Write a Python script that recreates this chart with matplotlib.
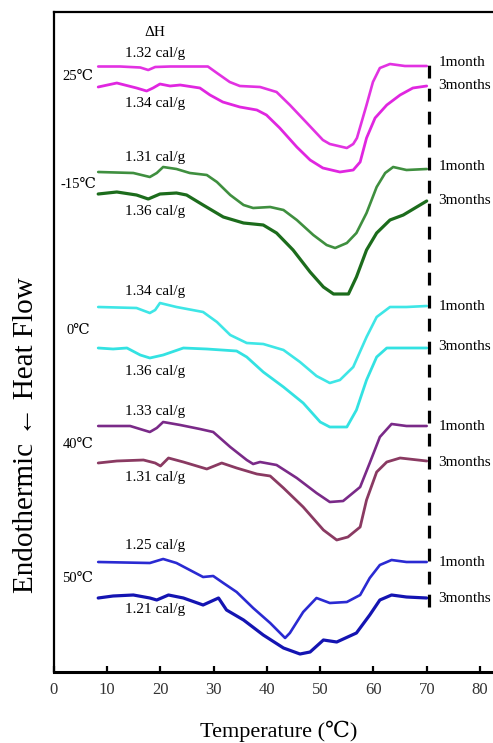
import matplotlib
matplotlib.use("Agg")
import matplotlib.pyplot as plt

plt.rcParams['font.family'] = ['Liberation Serif', 'DejaVu Serif', 'Noto Sans CJK SC']

# ---------------- data (temperature in degC, heat flow in arbitrary units) -------------
t_25_1m = [8.3, 12.4, 16.2, 17.7, 19.0, 21.8, 25.5, 28.9, 30.6, 33.0, 34.9, 38.7, 41.8, 44.3,
           47.5, 50.5, 51.8, 55.0, 56.2, 56.9, 58.7, 59.9, 61.2, 63.1, 65.9, 70.0]
h_25_1m = [60.55, 60.55, 60.45, 60.2, 60.5, 60.55, 60.55, 60.55, 59.9, 59.0, 58.6, 58.5, 58.0, 56.7,
           54.9, 53.2, 52.8, 52.4, 52.8, 53.4, 56.7, 59.0, 60.4, 60.8, 60.6, 60.6]

t_25_3m = [8.3, 11.8, 15.5, 17.4, 18.6, 19.9, 21.8, 23.7, 27.4, 29.3, 31.7, 34.9, 38.1, 39.9,
           42.4, 45.6, 48.1, 50.5, 53.7, 56.2, 57.5, 58.7, 60.3, 62.5, 65.0, 67.4, 70.0]
h_25_3m = [58.5, 58.9, 58.4, 58.1, 58.4, 58.8, 58.6, 58.7, 58.4, 57.7, 57.0, 56.5, 56.2, 55.7,
           54.4, 52.5, 51.2, 50.4, 50.0, 50.2, 51.0, 53.4, 55.4, 56.7, 57.7, 58.4, 58.6]

t_m15_1m = [8.3, 14.9, 18.0, 19.3, 20.5, 23.0, 25.5, 28.7, 30.6, 33.1, 35.6, 37.4, 40.6, 43.1,
            45.6, 48.7, 51.2, 52.8, 55.0, 56.8, 58.7, 60.6, 62.2, 63.7, 66.2, 70.0]
h_m15_1m = [50.0, 49.9, 49.5, 49.9, 50.5, 50.3, 49.9, 49.7, 49.0, 47.7, 46.7, 46.4, 46.5, 46.2,
            45.2, 43.7, 42.7, 42.4, 42.9, 43.9, 45.9, 48.5, 49.9, 50.5, 50.2, 50.3]

t_m15_3m = [8.3, 11.8, 15.5, 17.7, 19.9, 23.0, 24.9, 28.0, 31.8, 35.6, 39.3, 41.8, 44.9, 48.1,
            50.6, 52.5, 55.3, 56.8, 58.7, 60.6, 63.1, 65.6, 67.8, 70.0]
h_m15_3m = [47.8, 48.0, 47.7, 47.3, 47.8, 47.9, 47.7, 46.7, 45.5, 44.9, 44.7, 43.9, 42.2, 40.0,
            38.5, 37.8, 37.8, 39.5, 42.2, 43.9, 45.2, 45.7, 46.4, 47.1]

t_0_1m = [8.3, 15.5, 18.0, 19.0, 19.9, 23.0, 28.0, 30.6, 33.1, 36.2, 39.3, 43.1, 46.2, 49.3,
          51.8, 53.7, 56.2, 58.7, 60.6, 63.1, 66.2, 70.0]
h_0_1m = [36.5, 36.4, 35.9, 36.2, 36.9, 36.5, 36.0, 35.0, 33.7, 32.9, 32.8, 32.2, 31.0, 29.6,
          28.9, 29.2, 30.5, 33.5, 35.5, 36.5, 36.5, 36.6]

t_0_3m = [8.3, 11.1, 13.7, 16.2, 18.0, 20.5, 24.3, 28.7, 34.3, 36.2, 39.3, 43.1, 46.8, 50.0,
          51.8, 55.0, 56.8, 58.7, 60.6, 62.5, 66.2, 70.0]
h_0_3m = [32.4, 32.3, 32.4, 31.7, 31.4, 31.7, 32.4, 32.3, 32.1, 31.5, 30.0, 28.5, 26.9, 25.0,
          24.5, 24.5, 26.2, 29.2, 31.5, 32.4, 32.4, 32.4]

t_40_1m = [8.3, 14.3, 18.0, 19.3, 20.5, 23.7, 27.4, 29.9, 33.1, 36.2, 37.4, 38.7, 41.8, 45.6,
           49.3, 51.8, 54.3, 57.5, 59.3, 61.2, 63.4, 66.2, 70.0]
h_40_1m = [24.6, 24.6, 24.0, 24.4, 25.0, 24.7, 24.3, 24.0, 22.5, 21.2, 20.8, 21.0, 20.7, 19.4,
           17.9, 17.0, 17.1, 18.5, 20.9, 23.5, 24.8, 24.6, 24.6]

t_40_3m = [8.3, 11.8, 16.8, 19.0, 20.0, 21.5, 24.3, 28.7, 31.5, 34.3, 38.1, 40.6, 43.1, 46.8,
           50.6, 53.1, 55.2, 57.5, 58.7, 60.6, 62.5, 65.0, 70.0]
h_40_3m = [20.9, 21.1, 21.2, 20.9, 20.6, 21.4, 21.0, 20.3, 20.9, 20.4, 19.8, 19.6, 18.4, 16.5,
           14.2, 13.2, 13.5, 14.5, 17.2, 20.0, 21.0, 21.4, 21.1]

t_50_1m = [8.3, 18.0, 20.5, 23.0, 25.5, 28.0, 29.9, 31.8, 34.3, 37.4, 40.6, 43.4, 44.3, 46.8,
           49.3, 51.8, 55.0, 57.5, 59.3, 61.2, 63.4, 66.2, 70.0]
h_50_1m = [11.0, 10.9, 11.3, 10.9, 10.2, 9.5, 9.6, 8.9, 8.0, 6.4, 4.9, 3.4, 3.9, 6.0,
           7.4, 6.9, 7.0, 7.7, 9.4, 10.7, 11.2, 11.0, 11.0]

t_50_3m = [8.3, 11.1, 14.9, 18.0, 19.3, 21.5, 24.3, 28.0, 30.9, 32.4, 35.6, 39.3, 43.1, 46.2,
           48.1, 50.6, 53.1, 56.8, 59.3, 61.2, 63.4, 66.2, 70.0]
h_50_3m = [7.4, 7.6, 7.7, 7.4, 7.2, 7.7, 7.4, 6.7, 7.4, 6.2, 5.2, 3.7, 2.4, 1.8,
           2.0, 3.2, 3.0, 3.9, 5.7, 7.2, 7.7, 7.5, 7.4]

storage_labels = ['25℃', '-15℃', '0℃', '40℃', '50℃']
dh_1m = ['1.32 cal/g', '1.31 cal/g', '1.34 cal/g', '1.33 cal/g', '1.25 cal/g']
dh_3m = ['1.34 cal/g', '1.36 cal/g', '1.36 cal/g', '1.31 cal/g', '1.21 cal/g']
x_ticks = [0, 10, 20, 30, 40, 50, 60, 70, 80]

# ---------------- styling / layout --------------------------------------------------
curves = [
    (t_25_1m, h_25_1m, '#e232e2', 1.9), (t_25_3m, h_25_3m, '#e026e0', 2.0),
    (t_m15_1m, h_m15_1m, '#3f8f3f', 1.9), (t_m15_3m, h_m15_3m, '#1c6c1c', 2.3),
    (t_0_1m, h_0_1m, '#3ee6e6', 1.9), (t_0_3m, h_0_3m, '#33e2e2', 2.0),
    (t_40_1m, h_40_1m, '#7a2a88', 1.9), (t_40_3m, h_40_3m, '#8a3a62', 2.0),
    (t_50_1m, h_50_1m, '#2a2ad2', 1.9), (t_50_3m, h_50_3m, '#1414b2', 2.3),
]

W, H = 493, 743
fig = plt.figure(figsize=(W / 100, H / 100), dpi=100)
ax = fig.add_axes([54 / W, (H - 672) / H, 1 - 54 / W, (672 - 12) / H])
ax.set_xlim(0, 82.45)
ax.set_ylim(0, 66)

for t, h, c, lw in curves:
    ax.plot(t, h, color=c, lw=lw, solid_capstyle='round', solid_joinstyle='round')

# dashed reference line at the end of the scans
ax.vlines(70.4, 6.5, 61.6, colors='black', lw=2.3, linestyles=(0, (4, 3.2)))

# annotations
lab_x = 18.9
ax.text(lab_x, 63.9, 'ΔH', ha='center', va='center', fontsize=11)
y_1m_lab = [61.9, 51.5, 38.0, 26.1, 12.6]
y_3m_lab = [56.8, 46.05, 30.1, 19.5, 6.2]
y_store = [59.6, 48.7, 34.2, 22.7, 9.4]
y_r1 = [60.95, 50.5, 36.5, 24.6, 11.0]
y_r3 = [58.65, 47.2, 32.5, 21.0, 7.4]
for i in range(5):
    ax.text(lab_x, y_1m_lab[i], dh_1m[i], ha='center', va='center', fontsize=11)
    ax.text(lab_x, y_3m_lab[i], dh_3m[i], ha='center', va='center', fontsize=11)
    ax.text(4.5, y_store[i], storage_labels[i], ha='center', va='center', fontsize=10.5)
    ax.text(72.3, y_r1[i], '1month', ha='left', va='center', fontsize=11)
    ax.text(72.2, y_r3[i], '3months', ha='left', va='center', fontsize=11)

# axes styling
ax.spines['right'].set_visible(False)
ax.spines['left'].set_linewidth(1.6)
ax.spines['top'].set_linewidth(1.6)
ax.spines['bottom'].set_linewidth(2.2)
ax.set_yticks([])
ax.set_xticks(x_ticks)
ax.tick_params(axis='x', direction='in', length=4, width=1.6, pad=7,
               labelsize=12, labelcolor='#333333')

fig.text(279 / W, 1 - 731 / H, 'Temperature (℃)', ha='center', va='center', fontsize=16)
fig.text(26 / W, 1 - 435 / H, 'Endothermic ← Heat Flow', ha='center', va='center',
         rotation=90, fontsize=21)

fig.savefig('out.png', dpi=100)
